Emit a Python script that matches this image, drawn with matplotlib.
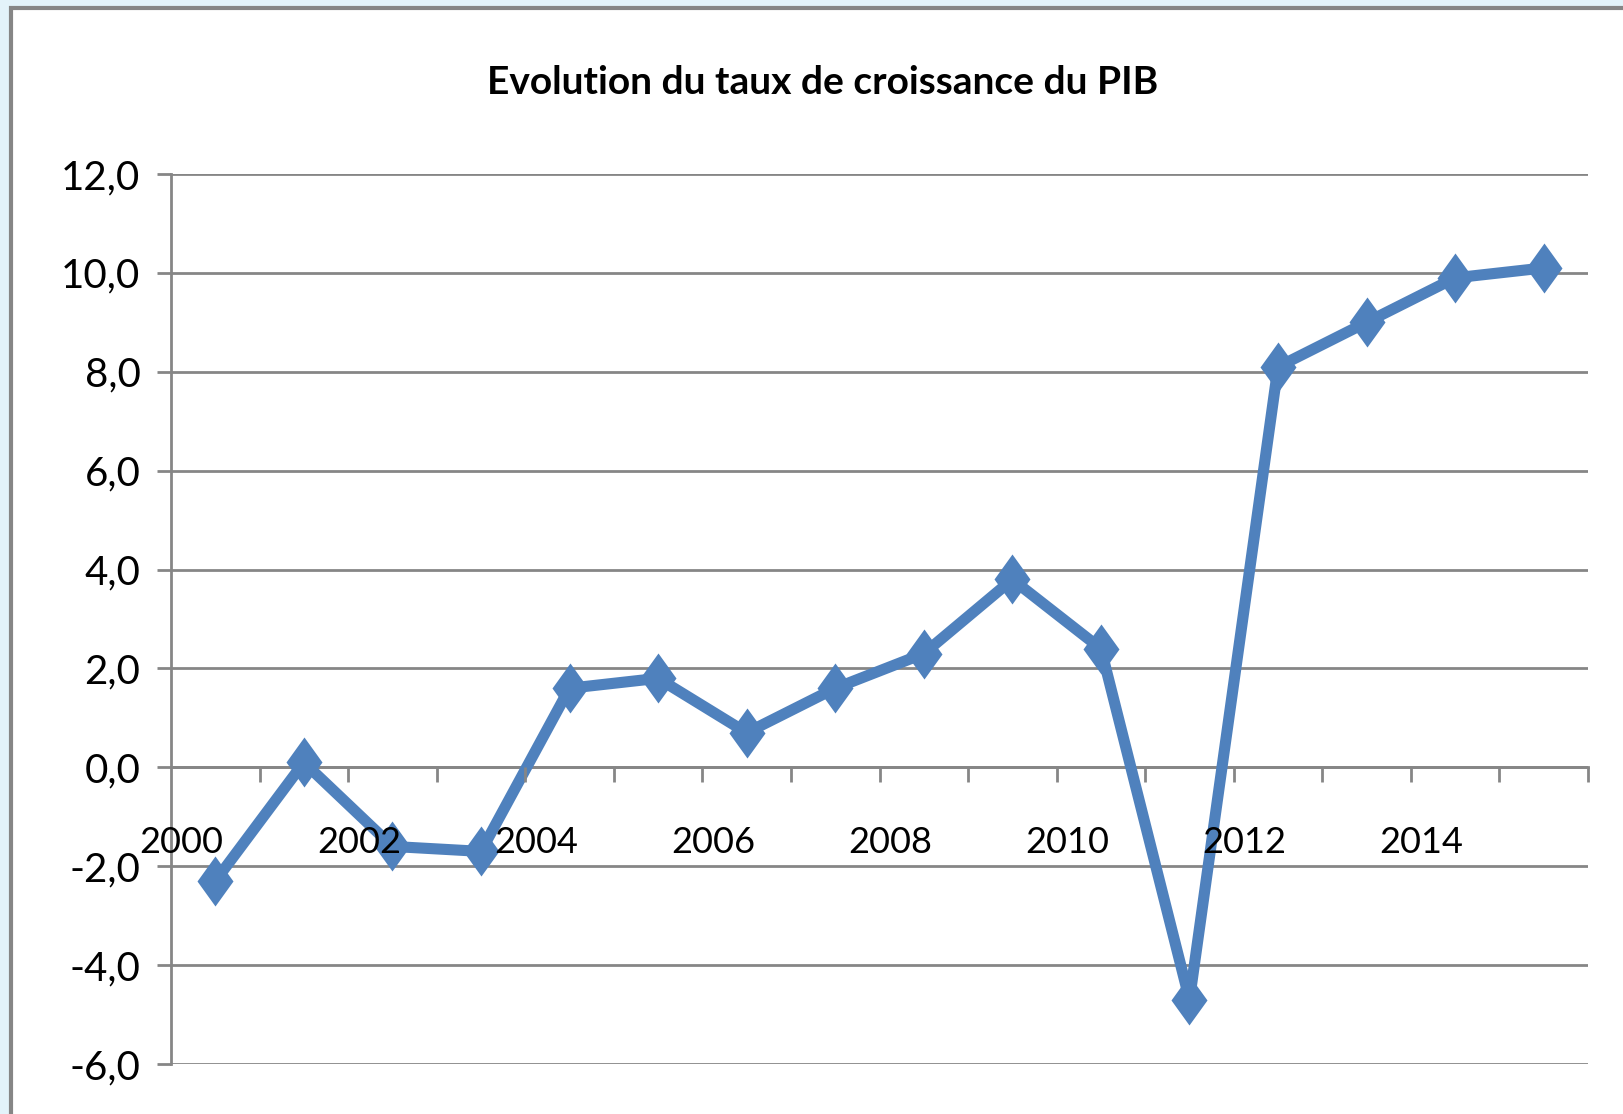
#!/usr/bin/env python3
import matplotlib
matplotlib.use('Agg')
import matplotlib.pyplot as plt
from matplotlib.patches import Rectangle

plt.rcParams['font.family'] = ['Lato', 'DejaVu Sans']

years = list(range(2000, 2016))
growth = [-2.3, 0.1, -1.6, -1.7, 1.6, 1.8, 0.7, 1.6, 2.3, 3.8, 2.4, -4.7, 8.1, 9.0, 9.9, 10.1]
year_labels = ['2000', '2002', '2004', '2006', '2008', '2010', '2012', '2014']
y_ticks = [-6, -4, -2, 0, 2, 4, 6, 8, 10, 12]

title = 'Evolution du taux de croissance du PIB'
line_color = '#4f81bd'
grid_color = '#868686'

fig = plt.figure(figsize=(16.23, 11.14), dpi=100)
fig.patch.set_facecolor('#e3f3fa')
# chart frame (white area with grey border top/left)
frame = Rectangle((11/1623, -0.01), 1.02, 1 - 8/1114 + 0.01,
                  transform=fig.transFigure, facecolor='white',
                  edgecolor=grid_color, linewidth=3, zorder=-10)
fig.patches.append(frame)

ax = fig.add_axes([171/1623, 1 - 1064/1114, (1588 - 171)/1623, (1064 - 174)/1114])
ax.patch.set_alpha(0)

x = list(range(len(years)))
diamond = [(0, 1), (0.72, 0), (0, -1), (-0.72, 0), (0, 1)]
ax.plot(x, growth, color=line_color, linewidth=8, marker=diamond,
        markersize=36, markeredgewidth=0, markerfacecolor=line_color,
        solid_joinstyle='round', zorder=3, clip_on=False)

ax.set_xlim(-0.5, len(years) - 0.5)
ax.set_ylim(-6, 12)

# y axis
ax.set_yticks(y_ticks)
ax.set_yticklabels([('%.1f' % v).replace('.', ',') for v in y_ticks], fontsize=29)
ax.yaxis.grid(True, color=grid_color, linewidth=2)
ax.tick_params(axis='y', length=10, width=2, color=grid_color, pad=12)

# x axis crosses at zero, labels every other year
for s in ['top', 'right']:
    ax.spines[s].set_visible(False)
ax.spines['bottom'].set_position(('data', 0))
ax.spines['bottom'].set_color(grid_color)
ax.spines['bottom'].set_linewidth(2)
ax.spines['left'].set_color(grid_color)
ax.spines['left'].set_linewidth(2)

label_pos = [years.index(int(y)) - 0.38 for y in year_labels]
ax.set_xticks(label_pos)
ax.set_xticklabels(year_labels, fontsize=26)
ax.tick_params(axis='x', which='major', length=0, pad=42)
ax.set_xticks([i + 0.5 for i in range(len(years))], minor=True)
ax.tick_params(axis='x', which='minor', length=11, width=2, color=grid_color, direction='out')
ax.set_axisbelow(True)
# year labels sit on top of the line, gridlines stay below
ax.xaxis.set_zorder(4)

fig.text(823/1623, 1 - 83/1114, title, ha='center', va='center',
         fontsize=28, fontweight='bold')

fig.savefig('out.png', dpi=100, facecolor=fig.get_facecolor())
